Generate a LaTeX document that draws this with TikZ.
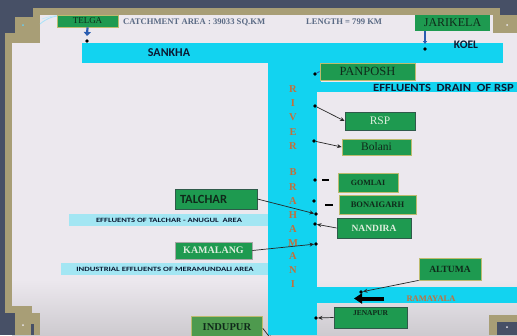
\documentclass[tikz,border=0pt]{standalone}
\usepackage{fontspec}
\setmainfont{Liberation Serif}
\newfontfamily\calib{Carlito}
\usetikzlibrary{arrows.meta,calc}
\definecolor{bgdark}{HTML}{475066}
\definecolor{slide}{HTML}{ECE8EE}
\definecolor{slidegray}{HTML}{CDCACF}
\definecolor{frametan}{HTML}{A89E76}
\definecolor{rivercyan}{HTML}{12D3F0}
\definecolor{palecyan}{HTML}{A3E6F3}
\definecolor{boxgreen}{HTML}{1E9A50}
\definecolor{oliveedge}{HTML}{BDBB6E}
\definecolor{darkedge}{HTML}{2F5A4A}
\definecolor{boxtext}{HTML}{0F2A1A}
\definecolor{lighttext}{HTML}{DDEEDD}
\definecolor{slatetext}{HTML}{5A6A84}
\definecolor{rivertext}{HTML}{C2703C}
\definecolor{navytext}{HTML}{0B1A33}
\definecolor{arrowblue}{HTML}{2A5CB0}
\definecolor{indugreen}{HTML}{4E9A4E}
\newcommand\fsz[1]{\fontsize{#1}{#1}\selectfont}
\begin{document}
\begin{tikzpicture}[x=1pt,y=-1pt,
  gbox/.style={draw=oliveedge, line width=0.8pt, fill=boxgreen, inner sep=0pt, text=boxtext},
  dbox/.style={gbox, draw=darkedge},
  dot/.style={circle, fill=black, inner sep=0pt, minimum size=3.6pt},
  conn/.style={draw=black!85, line width=0.7pt, -{Stealth[length=4.5pt,width=4pt]}},
  bluearrow/.style={draw=arrowblue, line width=2.2pt, -{Triangle[length=4pt,width=7pt]}},
  dashmark/.style={draw=black, line width=1.6pt},
  rivertxt/.style={text=rivertext, font=\bfseries\fsz{10.5}, inner sep=0pt},
  sanstxt/.style={text=navytext, inner sep=0pt},
  toptxt/.style={text=slatetext, font=\bfseries\fsz{8.6}, inner sep=0pt, anchor=west}
]
\useasboundingbox (0,0) rectangle (517,335);
\clip (0,0) rectangle (517,335);
% background
\fill[bgdark] (0,0) rectangle (517,335);
\fill[slide] (40,15) -- (493,15) -- (493,33) -- (517,33) -- (517,335) -- (12,335) -- (12,43) -- (40,43) -- cycle;
\shade[top color=slide, bottom color=slidegray] (12,280) rectangle (517,335.5);
% frame
\fill[frametan] (33,8) rectangle (500,15);
\fill[frametan] (33,8) rectangle (40,43);
\fill[frametan] (15,17) rectangle (33,33);
\fill[frametan] (5,33) rectangle (40,43);
\fill[frametan] (5,33) rectangle (12,313);
\fill[bgdark] (0,313) rectangle (15,335);
\fill[frametan] (5,306) rectangle (32,313);
\fill[frametan] (15,313) rectangle (40,335);
\fill[bgdark] (31,324) rectangle (34,335);
\fill[slide] (23,325) circle (1pt);
\fill[cyan!60] (23,25) circle (1pt);
\fill[frametan] (493,8) rectangle (500,33);
\fill[frametan] (500,15) rectangle (517,33);
\fill[slide] (507,25) circle (1pt);
\fill[frametan] (489,315) rectangle (517,335);
\fill[bgdark] (497,322) rectangle (517,335);
\fill[slide] (507,327) circle (1pt);
% swoosh
\draw[cyan!35, line width=0.8pt] (40,24) .. controls (46,19) and (51,17) .. (57,16);
\draw[cyan!25, line width=0.6pt] (42,19) .. controls (47,17) and (52,16) .. (57,15.5);
% rivers
\fill[rivercyan] (82,43) rectangle (503,63);
\fill[rivercyan] (268,63) rectangle (317,335);
\fill[rivercyan] (317,63) rectangle (321,92);
\fill[rivercyan] (317,82) rectangle (517,92);
\fill[rivercyan] (317,287) rectangle (517,303);
\fill[palecyan] (69,214) rectangle (268,226);
\fill[palecyan] (61,263) rectangle (268,275);
% texts on rivers
\node[sanstxt, font=\calib\bfseries\fsz{12}] (sankha) at (169,53) {SANKHA};
\node[sanstxt, font=\calib\bfseries\fsz{11.5}] (koel) at (466,45) {KOEL};
\node[sanstxt, font=\calib\bfseries\fsz{11}, anchor=west] (drain) at (373,87.5) {\scalebox{1.15}[1]{EFFLUENTS\ \ DRAIN\ \ OF RSP}};
\node[sanstxt, font=\calib\bfseries\fsz{6.5}] (talarea) at (169,220) {\scalebox{1.32}[1]{EFFLUENTS OF TALCHAR - ANUGUL\ \ AREA}};
\node[sanstxt, font=\calib\bfseries\fsz{6.5}] (merarea) at (165,269) {\scalebox{1.33}[1]{INDUSTRIAL EFFLUENTS OF MERAMUNDALI AREA}};
\node[rivertxt, font=\bfseries\fsz{8.5}] (ramayala) at (431,298.5) {RAMAYALA};
\foreach \l/\yy [count=\i] in {R/89,I/103,V/117,E/132,R/146,B/172,R/187,A/201,H/215,A/229,M/243,A/256,N/270,I/284}
  \node[rivertxt] (rv\i) at (293,\yy) {\l};
% top texts
\node[toptxt] (catch) at (123,22) {CATCHMENT AREA : 39033 SQ.KM};
\node[toptxt] (length) at (306,22) {LENGTH = 799 KM};
% boxes
\node[gbox, minimum width=61pt, minimum height=12pt, font=\fsz{9}] (telga) at (87.5,21) {TELGA};
\node[gbox, draw=none, minimum width=75pt, minimum height=16pt, font=\fsz{12}] (jarikela) at (452.5,23) {JARIKELA};
\node[gbox, minimum width=95pt, minimum height=17pt, font=\fsz{12.5}] (panposh) at (367.5,71.5) {PANPOSH};
\node[dbox, minimum width=70pt, minimum height=18pt, font=\fsz{11.5}, text=lighttext] (rsp) at (380,121) {RSP};
\node[gbox, minimum width=69pt, minimum height=16pt, font=\fsz{11.5}] (bolani) at (376.5,147) {Bolani};
\node[gbox, minimum width=60pt, minimum height=19pt, font=\bfseries\fsz{8}] (gomlai) at (368,182.5) {GOMLAI};
\node[gbox, minimum width=77pt, minimum height=19pt, font=\bfseries\fsz{8.5}] (bonai) at (377.5,204.5) {BONAIGARH};
\node[dbox, minimum width=74pt, minimum height=20pt, font=\bfseries\fsz{9.5}, text=lighttext] (nandira) at (374,228) {NANDIRA};
\node[dbox, minimum width=82pt, minimum height=20pt, font=\calib\bfseries\fsz{12.5}] (talchar) at (216,199) {\makebox[82pt][l]{\hspace{5pt}TALCHAR}};
\node[dbox, draw=gray!70, minimum width=77pt, minimum height=17pt, font=\bfseries\fsz{10}, text=lighttext] (kamalang) at (213.5,250.5) {KAMALANG};
\node[gbox, minimum width=62pt, minimum height=22pt, font=\bfseries\fsz{9.5}] (altuma) at (450,269) {ALTUMA};
\node[dbox, minimum width=73pt, minimum height=21pt, font=\bfseries\fsz{7.5}, text depth=9pt] (jenapur) at (370.5,317.5) {JENAPUR};
\node[gbox, fill=indugreen, minimum width=71pt, minimum height=24pt, font=\bfseries\fsz{10.5}, anchor=north west] (indupur) at (191,316) {\raisebox{3pt}{INDUPUR}};
% dots
\node[dot] (dtelga) at (87,41) {};
\node[dot] (djari) at (425,49) {};
\node[dot] (dpan) at (315,74) {};
\node[dot] (drsp) at (315,106) {};
\node[dot] (dbol) at (314,141) {};
\node[dot] (dgom) at (315,180) {};
\node[dot] (dbon) at (314,201) {};
\node[dot] (dtal) at (316,214) {};
\node[dot] (dnan) at (315,224) {};
\node[dot] (dkam) at (316,244) {};
\node[dot] (dalt) at (361,292) {};
\node[dot] (djen) at (316,318) {};
% connectors
\coordinate (telgatip) at (87,36);
\draw[bluearrow] (telga.south) -- (telgatip);
\coordinate (jaritop) at (425,31);
\coordinate (jaritip) at (425,44);
\draw[arrowblue, line width=1.3pt, -{Triangle[length=3pt,width=4pt]}] (jaritop) -- (jaritip);
\draw[arrowblue, line width=1pt] (dpan) -- (panposh.west);
\draw[conn] (drsp) -- (rsp.west);
\draw[conn] (dbol) -- (bolani.west);
\coordinate (gomA) at (322,180); \coordinate (gomB) at (329,180);
\draw[dashmark] (gomA) -- (gomB);
\coordinate (bonA) at (325,205); \coordinate (bonB) at (333,205);
\draw[dashmark] (bonA) -- (bonB);
\draw[conn] (nandira.west) -- (dnan);
\draw[conn] (talchar.east) -- (dtal);
\draw[conn] (kamalang.east) -- (dkam);
\draw[conn] (altuma.south west) -- (dalt);
\coordinate (bigA) at (384,298.5); \coordinate (bigB) at (354,298.5);
\draw[black, line width=4pt, -{Triangle[length=8pt,width=10pt]}] (bigA) -- (bigB);
\draw[conn] (jenapur.west) -- (djen);
\coordinate (indend) at (272,340);
\draw[conn] (indupur.east) -- (indend);
\end{tikzpicture}
\end{document}
